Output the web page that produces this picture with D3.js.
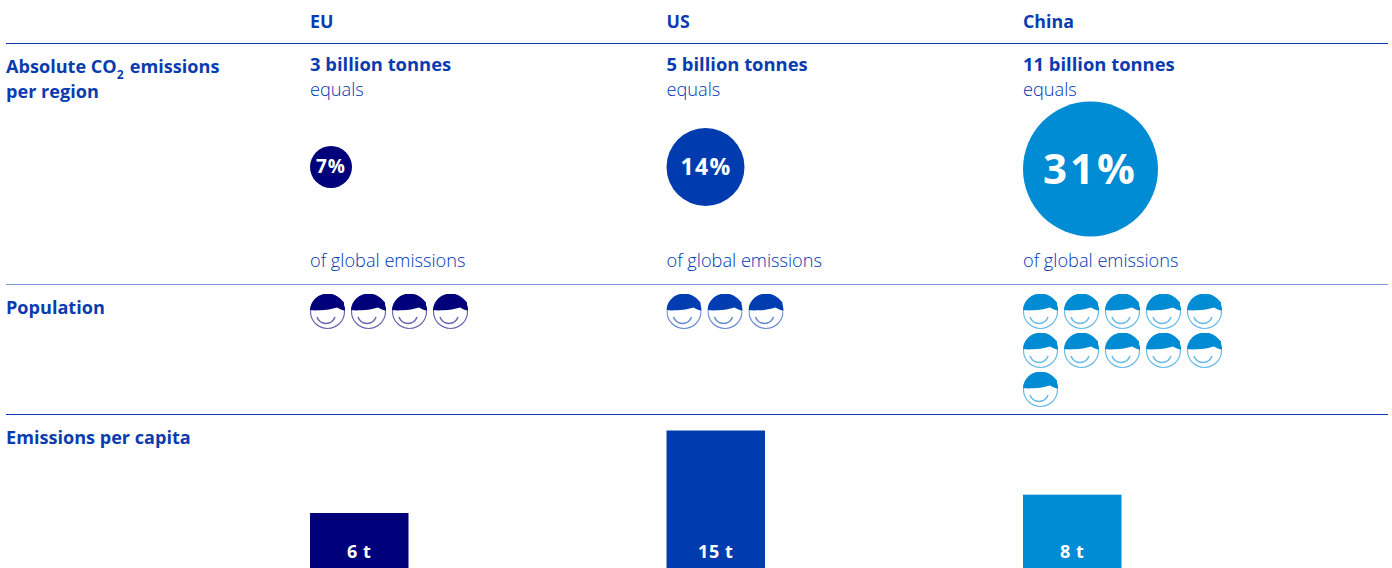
<!DOCTYPE html>
<html>
<head>
<meta charset="utf-8">
<style>
html,body{margin:0;padding:0;background:#fff;overflow:hidden}
svg{display:block}
text{font-family:"Open Sans","Noto Sans",sans-serif}
</style>
<script src="https://cdn.jsdelivr.net/npm/d3@7"></script>
</head>
<body>
<svg id="chart" width="1392" height="568"></svg>
<script>
const regions = ["EU", "US", "China"];
const absoluteLabels = ["3 billion tonnes", "5 billion tonnes", "11 billion tonnes"];
const globalShare = [7, 14, 31];
const populationIcons = [4, 3, 11];
const perCapita = [6, 15, 8];
const regionColors = ["#00007a", "#003cb0", "#008cd4"];
const rowTitles = ["Population", "Emissions per capita"];

const ink = "#0a3caf";
const lightInk = "#0036b4";
const svg = d3.select("#chart");

const x = d3.scalePoint().domain(regions).range([310, 1023]);
const color = d3.scaleOrdinal().domain(regions).range(regionColors);
const radius = d3.scaleLinear().domain([7, 14, 31]).range([21, 39, 67.5]);
const barH = d3.scaleLinear().domain([0, 15]).range([0, 137.5]);
const barBottom = 568, barWidth = 98.5;

const rows = regions.map((r, i) => ({
  region: r, absolute: absoluteLabels[i], share: globalShare[i],
  icons: populationIcons[i], capita: perCapita[i]
}));

// horizontal rules between table rows
[[43.5, 1, ink], [284.5, 1, "#7f9dd8"], [414.5, 1, ink]].forEach(([y, w, c]) => {
  svg.append("line").attr("x1", 6).attr("x2", 1388).attr("y1", y).attr("y2", y)
    .attr("stroke", c).attr("stroke-width", w);
});

// left-hand row titles
const title = svg.append("text").attr("x", 6).attr("y", 73)
  .attr("fill", ink).attr("font-size", 18.1).attr("font-weight", 700);
title.append("tspan").text("Absolute CO");
title.append("tspan").text("2").attr("font-size", 12).attr("dy", 6);
title.append("tspan").text(" emissions").attr("dy", -6).attr("dx", 1.5);
svg.append("text").attr("x", 6).attr("y", 98).text("per region")
  .attr("fill", ink).attr("font-size", 18.1).attr("font-weight", 700);
svg.selectAll("text.row").data(rowTitles).join("text").attr("class", "row")
  .attr("x", 6).attr("y", (d, i) => [314, 444][i]).text(d => d)
  .attr("fill", ink).attr("font-size", 18.1).attr("font-weight", 700);

// one column per region
const col = svg.selectAll("g.col").data(rows).join("g").attr("class", "col")
  .attr("transform", d => `translate(${x(d.region)},0)`);

col.append("text").attr("y", 28).text(d => d.region)
  .attr("fill", ink).attr("font-size", 17.8).attr("font-weight", 700);
col.append("text").attr("y", 70.5).text(d => d.absolute)
  .attr("fill", ink).attr("font-size", 18.4).attr("font-weight", 700);
col.append("text").attr("y", 95.5).text("equals")
  .attr("fill", lightInk).attr("font-size", 18.2).attr("font-weight", 300);
col.append("text").attr("y", 266.5).text("of global emissions")
  .attr("fill", lightInk).attr("font-size", 18.2).attr("font-weight", 300);

// bubbles for the share of global emissions
col.append("circle")
  .attr("cx", d => radius(d.share)).attr("cy", d => d.share > 20 ? 169 : 167)
  .attr("r", d => radius(d.share)).attr("fill", d => color(d.region));
col.append("text")
  .attr("x", d => radius(d.share) + (d.share > 20 ? 0 : d.share > 10 ? 0.5 : 0))
  .attr("y", d => (d.share > 20 ? 168.5 : 166.5))
  .attr("dy", "0.36em").attr("text-anchor", "middle")
  .attr("fill", "#fff").attr("font-weight", 700)
  .attr("font-size", d => d.share > 20 ? 42 : d.share > 10 ? 23 : 19)
  .attr("letter-spacing", d => d.share > 20 ? 3 : d.share > 10 ? 1.4 : 1)
  .text(d => d.share + "%");

// head pictograms: one per unit of population
const icon = 35, stepX = 41, stepY = 39, perRow = 5;
const hair = "M0 16 C0.5 6 9 -0.5 17.5 -0.5 C25 -0.5 30 3.5 34 8.5 C33.5 11 35 13 35.5 16.5 C32 16.5 29.5 15 27 13.5 C22 15 16 16.3 10 16.3 C6 16.5 3 16.5 0 16 Z";
const defs = svg.append("defs");
defs.append("clipPath").attr("id", "iconClip")
  .append("rect").attr("x", 0).attr("y", 0).attr("width", icon).attr("height", icon);
defs.append("filter").attr("id", "iconSoft")
  .attr("filterUnits", "userSpaceOnUse")
  .attr("x", -3).attr("y", -3).attr("width", 41).attr("height", 41)
  .append("feGaussianBlur").attr("stdDeviation", 0.55);

col.each(function (d) {
  const g = d3.select(this);
  const c = color(d.region);
  const cells = d3.range(d.icons);
  const h = g.selectAll("g.head").data(cells).join("g").attr("class", "head")
    .attr("transform", i => `translate(${(i % perRow) * stepX},${294 + Math.floor(i / perRow) * stepY})`)
    .append("g").attr("clip-path", "url(#iconClip)")
    .append("g").attr("filter", "url(#iconSoft)");
  h.append("circle").attr("cx", 17.5).attr("cy", 17.5).attr("r", 17)
    .attr("fill", "none").attr("stroke", c).attr("stroke-opacity", 0.6).attr("stroke-width", 1.2);
  h.append("path").attr("d", "M7 23 C10 31.5 22 31.5 25 23")
    .attr("fill", "none").attr("stroke", c).attr("stroke-opacity", 0.6).attr("stroke-width", 1.5);
  h.append("path").attr("d", hair).attr("fill", c);
});

// bars for emissions per capita
col.append("rect")
  .attr("x", 0).attr("width", barWidth)
  .attr("y", d => barBottom - barH(d.capita))
  .attr("height", d => barH(d.capita))
  .attr("fill", d => color(d.region));
col.append("text")
  .attr("x", barWidth / 2).attr("y", 558).attr("text-anchor", "middle")
  .attr("fill", "#fff").attr("font-size", 18).attr("font-weight", 700)
  .attr("letter-spacing", 0.6)
  .text(d => d.capita + " t");
</script>
</body>
</html>
